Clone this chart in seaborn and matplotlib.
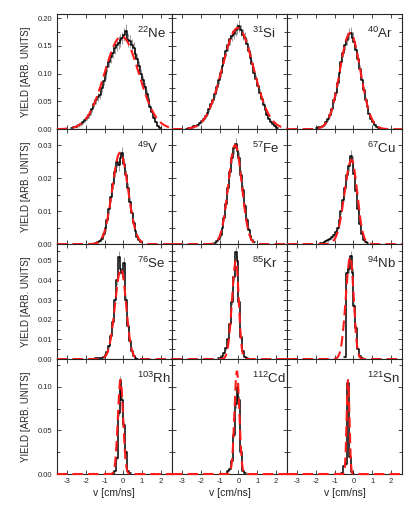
import matplotlib
matplotlib.use("Agg")
import numpy as np
import pandas as pd
import seaborn as sns
import matplotlib.pyplot as plt
from matplotlib.ticker import MultipleLocator, FormatStrFormatter

# isotopes, one per panel (row by row)
mass = [22, 31, 40, 49, 57, 67, 76, 85, 94, 103, 112, 121]
element = ['Ne', 'Si', 'Ar', 'V', 'Fe', 'Cu', 'Se', 'Kr', 'Nb', 'Rh', 'Cd', 'Sn']

# histogram bins: first left edge per panel, width 0.1 cm/ns
bin_width = 0.1
hist_start = [-2.8, -2.8, -2.0, -1.5, -1.3, -1.8, -1.6, -1.1, -0.5, -0.6, -0.7, -0.65]

ne22 = [0.002, 0.003, 0.004, 0.005, 0.007, 0.009, 0.012, 0.016, 0.020, 0.025,
        0.030, 0.037, 0.045, 0.052, 0.058, 0.062, 0.074, 0.087, 0.099, 0.112,
        0.121, 0.130, 0.138, 0.146, 0.152, 0.156, 0.160, 0.164, 0.170, 0.177,
        0.160, 0.158, 0.152, 0.146, 0.136, 0.126, 0.114, 0.100, 0.088, 0.076,
        0.064, 0.052, 0.040, 0.030, 0.020, 0.012, 0.006, 0.002]
si31 = [0.001, 0.002, 0.002, 0.004, 0.005, 0.006, 0.008, 0.011, 0.014, 0.018,
        0.024, 0.029, 0.036, 0.045, 0.052, 0.064, 0.076, 0.089, 0.101, 0.114,
        0.128, 0.140, 0.151, 0.162, 0.168, 0.172, 0.178, 0.181, 0.186, 0.178,
        0.170, 0.165, 0.153, 0.141, 0.128, 0.117, 0.102, 0.090, 0.077, 0.066,
        0.054, 0.043, 0.034, 0.026, 0.019, 0.013, 0.009, 0.005, 0.002]
ar40 = [0.002, 0.003, 0.004, 0.005, 0.008, 0.012, 0.018, 0.026, 0.036, 0.052,
        0.066, 0.084, 0.101, 0.121, 0.138, 0.152, 0.161, 0.172, 0.174, 0.165,
        0.157, 0.143, 0.127, 0.108, 0.088, 0.070, 0.053, 0.039, 0.027, 0.018,
        0.012, 0.007, 0.004, 0.002, 0.001]
v49 = [0.0004, 0.0006, 0.0010, 0.0017, 0.0030, 0.0048, 0.0074, 0.0105, 0.0142,
       0.0182, 0.0218, 0.0250, 0.0238, 0.0262, 0.0275, 0.0244, 0.0208, 0.0170,
       0.0128, 0.0094, 0.0064, 0.0040, 0.0022, 0.0011, 0.0005]
fe57 = [0.0004, 0.0008, 0.0015, 0.0028, 0.0050, 0.0080, 0.0120, 0.0170, 0.0218,
        0.0262, 0.0290, 0.0304, 0.0282, 0.0262, 0.0210, 0.0165, 0.0115, 0.0074,
        0.0044, 0.0024, 0.0012, 0.0005]
cu67 = [0.0003, 0.0004, 0.0006, 0.0008, 0.0011, 0.0015, 0.0021, 0.0028, 0.0036,
        0.0050, 0.0072, 0.0100, 0.0135, 0.0170, 0.0208, 0.0236, 0.0268, 0.0250,
        0.0212, 0.0160, 0.0105, 0.0060, 0.0030, 0.0013, 0.0005, 0.0002]
se76 = [0.0002, 0.0003, 0.0004, 0.0006, 0.0008, 0.0012, 0.0020, 0.0035, 0.0065,
        0.0115, 0.0190, 0.0300, 0.0400, 0.0520, 0.0460, 0.0440, 0.0490, 0.0300,
        0.0170, 0.0090, 0.0040, 0.0015, 0.0005, 0.0002]
kr85 = [0.0004, 0.0008, 0.0016, 0.0030, 0.0055, 0.0100, 0.0180, 0.0290, 0.0420,
        0.0545, 0.0500, 0.0290, 0.0110, 0.0040, 0.0012, 0.0003]
nb94 = [0.0010, 0.0440, 0.0460, 0.0525, 0.0440, 0.0270, 0.0160, 0.0050, 0.0015,
        0.0004]
rh103 = [0.0005, 0.0030, 0.0180, 0.0700, 0.1080, 0.0850, 0.0560, 0.0250, 0.0040,
         0.0008]
cd112 = [0.0005, 0.0030, 0.0060, 0.0150, 0.0450, 0.0800, 0.1000, 0.0850, 0.0250,
         0.0040, 0.0010]
sn121 = [0.0010, 0.0090, 0.0120, 0.1040, 0.0200, 0.0020, 0.0003]
hist_values = [ne22, si31, ar40, v49, fe57, cu67, se76, kr85, nb94, rh103, cd112, sn121]

# statistical error scale per panel (err = sqrt(y * k))
err_scale = [0.0008, 0.0006, 0.0005, 0.00012, 0.0001, 0.0001,
             0.00015, 0.0001, 0.0001, 0.0002, 0.0002, 0.0002]

# gaussian fit parameters
fit_amp = [0.167, 0.182, 0.173, 0.0277, 0.030, 0.0255, 0.046, 0.050, 0.052, 0.108, 0.118, 0.108]
fit_mean = [-0.09, -0.03, -0.18, -0.17, -0.17, -0.10, -0.12, -0.13, -0.17, -0.15, -0.08, -0.29]
fit_sig_l = [0.91, 0.84, 0.55, 0.42, 0.37, 0.38, 0.32, 0.21, 0.24, 0.14, 0.13, 0.075]
fit_sig_r = [0.91, 0.84, 0.55, 0.42, 0.35, 0.30, 0.27, 0.15, 0.18, 0.14, 0.13, 0.075]

# per-row y axes
row_ymax = [0.207, 0.0348, 0.0585, 0.132]
row_major = [0.05, 0.01, 0.01, 0.05]
row_minor = [0.025, 0.005, 0.005, 0.025]

x_lo, x_hi = -3.55, 2.6

sns.set_style("ticks")
plt.rcParams['font.family'] = ['Liberation Sans', 'DejaVu Sans']
plt.rcParams['mathtext.fontset'] = 'custom'
plt.rcParams['mathtext.rm'] = 'Liberation Sans'
plt.rcParams['mathtext.default'] = 'regular'
plt.rcParams['axes.unicode_minus'] = False
plt.rcParams['axes.linewidth'] = 0.8

fig, axes = plt.subplots(4, 3, figsize=(4.15, 5.07), dpi=100, sharex=True, sharey='row')
fig.subplots_adjust(left=0.137, right=0.969, top=0.972, bottom=0.065, wspace=0, hspace=0)

xs = np.linspace(x_lo, x_hi, 800)
for i, ax in enumerate(axes.flat):
    r, c = divmod(i, 3)
    vals = np.array(hist_values[i])
    n = len(vals)
    lo = hist_start[i]
    centers = lo + bin_width * (np.arange(n) + 0.5)
    df = pd.DataFrame({'v': centers, 'y': vals})
    sns.histplot(data=df, x='v', weights='y', binwidth=bin_width,
                 binrange=(lo, lo + bin_width * n), element='step', fill=False,
                 color='black', linewidth=1.1, ax=ax)
    err = np.sqrt(vals * err_scale[i])
    ax.vlines(centers, vals - err, vals + err, color='#8a8a8a', linewidth=0.6, zorder=1)

    sig = np.where(xs < fit_mean[i], fit_sig_l[i], fit_sig_r[i])
    fit = fit_amp[i] * np.exp(-0.5 * ((xs - fit_mean[i]) / sig) ** 2)
    sns.lineplot(x=xs, y=fit, ax=ax, color='#ff1a1a', linewidth=1.5,
                 linestyle=(0, (5, 2.5)), zorder=5, clip_on=False)

    ax.set_xlim(x_lo, x_hi)
    ax.set_ylim(0, row_ymax[r])
    ax.xaxis.set_major_locator(MultipleLocator(1))
    ax.yaxis.set_major_locator(MultipleLocator(row_major[r]))
    ax.yaxis.set_minor_locator(MultipleLocator(row_minor[r]))
    ax.yaxis.set_major_formatter(FormatStrFormatter('%.2f'))
    ax.tick_params(which='both', direction='in', top=True, right=True,
                   labelsize=5.5, width=0.6, pad=3)
    ax.tick_params(which='major', length=3)
    ax.tick_params(which='minor', length=2.2)
    ax.set_xlabel('')
    ax.set_ylabel('')
    ax.text(0.695, 0.795, f'$^{{{mass[i]}}}$' + element[i], transform=ax.transAxes,
            ha='left', va='baseline', fontsize=9.5)

for r in range(4):
    axes[r, 0].set_ylabel('YIELD [ARB. UNITS]', fontsize=7)
    axes[r, 0].yaxis.set_label_coords(-0.225, 0.5)
for c in range(3):
    axes[3, c].set_xlabel('v [cm/ns]', fontsize=7.5)
    axes[3, c].xaxis.set_label_coords(0.5, -0.12)

fig.savefig('out.png', dpi=100)
